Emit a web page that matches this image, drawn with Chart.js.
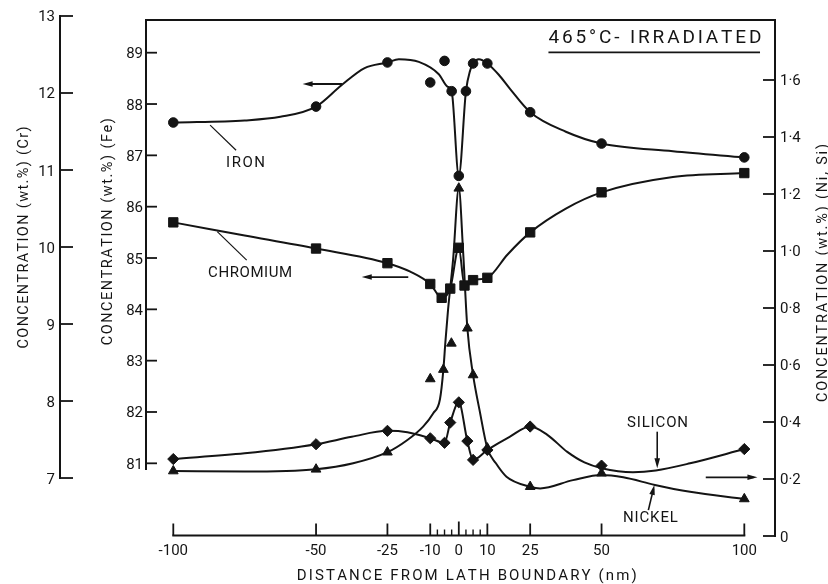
<!DOCTYPE html>
<html>
<head>
<meta charset="utf-8">
<script src="https://cdn.jsdelivr.net/npm/chart.js@4.4.0/dist/chart.umd.min.js"></script>
<style>
  html, body { margin: 0; padding: 0; background: #fff; }
</style>
</head>
<body>
<canvas id="profil" width="828" height="584"></canvas>
<script>
// axis ticks
const distTicks = [-100, -50, -25, -10, 0, 10, 25, 50, 100];
const distMinor = [-7.5, -5, -2.5, 2.5, 5, 7.5];
const feTicks = [81, 82, 83, 84, 85, 86, 87, 88, 89];
const crTicks = [7, 8, 9, 10, 11, 12, 13];
const niTicks = [0, 0.2, 0.4, 0.6, 0.8, 1.0, 1.2, 1.4, 1.6];

// measured points, distance in nm
const ironX = [-100, -50, -25, -10, -5, -2.5, 0, 2.5, 5, 10, 25, 50, 100];
const ironFe = [87.64, 87.95, 88.81, 88.42, 88.84, 88.25, 86.60, 88.25, 88.79, 88.79, 87.84, 87.23, 86.96];

const crX = [-100, -50, -25, -10, -6, -3, 0, 2, 5, 10, 25, 50, 100];
const crWt = [10.32, 9.98, 9.79, 9.52, 9.34, 9.46, 9.99, 9.50, 9.57, 9.60, 10.19, 10.71, 10.96];

const niX = [-100, -50, -25, -10, -5.4, -2.6, 0, 3, 5, 10, 25, 50, 100];
const niWt = [0.228, 0.234, 0.294, 0.551, 0.584, 0.676, 1.220, 0.729, 0.565, 0.308, 0.173, 0.220, 0.130];

const siX = [-100, -50, -25, -10, -5, -3, 0, 3, 5, 10, 25, 50, 100];
const siWt = [0.270, 0.322, 0.369, 0.343, 0.327, 0.398, 0.469, 0.333, 0.267, 0.302, 0.384, 0.247, 0.305];

// drawn-in profile curves
const ironCurveX = [-100, -75, -62.5, -50, -41, -33, -25, -21, -14, -7, -4, -2.5, 0, 2.5, 4, 5, 7, 10, 14, 18, 25, 37.5, 50, 75, 100];
const ironCurveFe = [87.64, 87.68, 87.75, 87.95, 88.37, 88.70, 88.81, 88.87, 88.82, 88.58, 88.34, 88.25, 86.60, 88.25, 88.66, 88.79, 88.87, 88.79, 88.57, 88.29, 87.84, 87.46, 87.23, 87.08, 86.96];

const crCurveX = [-100, -75, -50, -25, -17, -10, -6, -3, 0, 2, 5, 10, 17, 25, 37.5, 50, 75, 100];
const crCurveWt = [10.32, 10.15, 9.98, 9.79, 9.68, 9.52, 9.34, 9.46, 9.99, 9.50, 9.57, 9.60, 9.90, 10.19, 10.50, 10.71, 10.91, 10.96];

const niCurveX = [-100, -75, -50, -37, -25, -18, -12.5, -9, -6.6, -5.4, -4.7, -3.8, -2, 0, 1.5, 3, 5, 7.3, 10, 13, 16.7, 25, 28.5, 40, 50, 57.6, 68.7, 81, 100];
const niCurveWt = [0.228, 0.226, 0.234, 0.255, 0.294, 0.337, 0.384, 0.430, 0.480, 0.584, 0.680, 0.790, 0.970, 1.220, 1.000, 0.729, 0.565, 0.440, 0.308, 0.255, 0.208, 0.173, 0.167, 0.196, 0.214, 0.206, 0.179, 0.155, 0.130];

const siCurveX = [-100, -75, -50, -37.5, -25, -18, -10, -5, -3, 0, 3, 5, 10, 17.8, 25, 31, 38, 44, 50, 61, 69, 81, 100];
const siCurveWt = [0.270, 0.290, 0.322, 0.348, 0.369, 0.364, 0.343, 0.327, 0.398, 0.469, 0.333, 0.267, 0.302, 0.348, 0.384, 0.355, 0.295, 0.258, 0.238, 0.224, 0.230, 0.255, 0.305];

const ink = "#141414";
const fontFam = "Roboto, 'DejaVu Sans', sans-serif";

function pts(xs, ys) {
  return xs.map((x, i) => ({ x: x, y: ys[i] }));
}

function curve(xs, ys, axis) {
  return {
    data: pts(xs, ys),
    yAxisID: axis,
    showLine: true,
    borderColor: ink,
    borderWidth: 2,
    pointRadius: 0,
    cubicInterpolationMode: "monotone",
    fill: false,
    order: 2,
  };
}

function marks(xs, ys, axis, style, r) {
  return {
    data: pts(xs, ys),
    yAxisID: axis,
    showLine: false,
    pointStyle: style,
    pointRadius: r,
    pointBackgroundColor: ink,
    pointBorderColor: ink,
    pointBorderWidth: 1,
    order: 1,
  };
}

function seg(ctx, x1, y1, x2, y2) {
  ctx.beginPath();
  ctx.moveTo(x1, y1);
  ctx.lineTo(x2, y2);
  ctx.stroke();
}

// shaft with a narrow filled head at (x2, y2)
function arrow(ctx, x1, y1, x2, y2) {
  const a = Math.atan2(y2 - y1, x2 - x1);
  const L = 10, W = 2.8;
  seg(ctx, x1, y1, x2 - 4 * Math.cos(a), y2 - 4 * Math.sin(a));
  ctx.beginPath();
  ctx.moveTo(x2, y2);
  ctx.lineTo(x2 - L * Math.cos(a) + W * Math.sin(a), y2 - L * Math.sin(a) - W * Math.cos(a));
  ctx.lineTo(x2 - L * Math.cos(a) - W * Math.sin(a), y2 - L * Math.sin(a) + W * Math.cos(a));
  ctx.closePath();
  ctx.fill();
}

// letters spread out evenly over a given width
function spaced(ctx, text, x, y, width, align) {
  const chars = [...text];
  const natural = chars.reduce((s, c) => s + ctx.measureText(c).width, 0);
  const gap = chars.length > 1 ? (width - natural) / (chars.length - 1) : 0;
  let cx = align === "center" ? x - width / 2 : align === "right" ? x - width : x;
  ctx.textAlign = "left";
  for (const c of chars) {
    ctx.fillText(c, cx, y);
    cx += ctx.measureText(c).width + gap;
  }
}

const frame = {
  id: "frame",
  afterDraw(chart) {
    const ctx = chart.ctx;
    const a = chart.chartArea;
    const s = chart.scales;
    const X = (v) => s.x.getPixelForValue(v);
    const F = (v) => s.fe.getPixelForValue(v);
    const C = (v) => s.cr.getPixelForValue(v);
    const N = (v) => s.ni.getPixelForValue(v);

    ctx.save();
    ctx.strokeStyle = ink;
    ctx.fillStyle = ink;
    ctx.lineWidth = 2;
    ctx.lineCap = "butt";

    // top edge and the Ni,Si axis on the right
    seg(ctx, a.left - 1, a.top, a.right + 1, a.top);
    seg(ctx, a.right, a.top, a.right, a.bottom + 1);
    // Fe axis stops above the distance axis
    seg(ctx, a.left, a.top - 1, a.left, F(80.87));
    // Cr axis sits out on its own
    const crAxis = 60;
    seg(ctx, crAxis, C(13) - 1, crAxis, C(7) + 1);
    // distance axis
    const base = a.bottom - 0.5;
    seg(ctx, X(-100) - 1, base, X(100) + 1, base);

    ctx.lineWidth = 1.8;
    feTicks.forEach((v) => seg(ctx, a.left, F(v), a.left + 11, F(v)));
    crTicks.forEach((v) => seg(ctx, crAxis, C(v), crAxis + 13, C(v)));
    niTicks.forEach((v) => seg(ctx, a.right - 12, N(v), a.right, N(v)));
    distTicks.forEach((v) => seg(ctx, X(v), base, X(v), base - (v === 0 ? 14 : 12)));
    ctx.lineWidth = 1.4;
    distMinor.forEach((v) => seg(ctx, X(v), base, X(v), base - 6));

    ctx.font = "15px " + fontFam;
    ctx.textBaseline = "alphabetic";
    ctx.textAlign = "right";
    feTicks.forEach((v) => ctx.fillText(String(v), 143, F(v) + 5.5));
    crTicks.forEach((v) => ctx.fillText(String(v), 55, C(v) + 5.5));
    ctx.textAlign = "left";
    niTicks.forEach((v) =>
      ctx.fillText(v === 0 ? "0" : v.toFixed(1).replace(".", "\u00b7"), 780, N(v) + 5.5)
    );
    ctx.textAlign = "center";
    distTicks.forEach((v) => ctx.fillText(String(v), X(v), 554.5));

    // axis titles
    ctx.font = "14.5px " + fontFam;
    function vtitle(text, x, cy, len) {
      ctx.save();
      ctx.translate(x, cy);
      ctx.rotate(-Math.PI / 2);
      spaced(ctx, text, 0, 0, len, "center");
      ctx.restore();
    }
    vtitle("CONCENTRATION (wt.%) (Cr)", 27.5, 237.5, 222);
    vtitle("CONCENTRATION (wt.%) (Fe)", 111.5, 231.7, 227);
    vtitle("CONCENTRATION (wt.%) (Ni, Si)", 827, 273, 258);
    ctx.font = "15px " + fontFam;
    spaced(ctx, "DISTANCE FROM LATH BOUNDARY (nm)", X(2.8), 580, 340, "center");

    // heading
    ctx.font = "19px " + fontFam;
    spaced(ctx, "465\u00b0C- IRRADIATED", X(68.7), N(1.729), 213, "center");
    ctx.lineWidth = 1.6;
    seg(ctx, X(31.4), N(1.697), X(105.5), N(1.697));

    // curve labels
    ctx.font = "15px " + fontFam;
    spaced(ctx, "IRON", X(-74.7), F(86.77), 39, "center");
    spaced(ctx, "CHROMIUM", X(-73.1), C(9.614), 84, "center");
    spaced(ctx, "SILICON", X(69.6), N(0.3835), 61, "center");
    spaced(ctx, "NICKEL", X(67.1), N(0.050), 55, "center");

    // leaders
    ctx.lineWidth = 1.2;
    seg(ctx, X(-78), F(87.10), X(-87.1), F(87.59));
    seg(ctx, X(-74.3), C(9.83), X(-84.6), C(10.20));
    ctx.lineWidth = 1.6;
    arrow(ctx, X(69.5), N(0.366), X(69.5), N(0.2375));
    arrow(ctx, X(66.4), N(0.091), X(68.5), N(0.179));

    // which axis each curve belongs to
    ctx.lineWidth = 1.8;
    arrow(ctx, X(-40.8), F(88.39), X(-54.7), F(88.39));
    arrow(ctx, X(-17.7), C(9.61), X(-34), C(9.61));
    arrow(ctx, X(86.5), N(0.206), X(104.6), N(0.206));

    ctx.restore();
  },
};

new Chart(document.getElementById("profil").getContext("2d"), {
  type: "scatter",
  data: {
    datasets: [
      marks(ironX, ironFe, "fe", "circle", 4.8),
      marks(crX, crWt, "cr", "rect", 6.6),
      marks(niX, niWt, "ni", "triangle", 5.6),
      marks(siX, siWt, "ni", "rectRot", 5.6),
      curve(ironCurveX, ironCurveFe, "fe"),
      curve(crCurveX, crCurveWt, "cr"),
      curve(niCurveX, niCurveWt, "ni"),
      curve(siCurveX, siCurveWt, "ni"),
    ],
  },
  options: {
    responsive: false,
    animation: false,
    events: [],
    layout: { padding: { left: 146, right: 53, top: 20, bottom: 48 } },
    plugins: { legend: { display: false }, tooltip: { enabled: false } },
    scales: {
      x: { type: "linear", min: -109.56, max: 110.75, display: false },
      fe: { axis: "y", type: "linear", min: 79.584, max: 89.637, display: false },
      cr: { axis: "y", type: "linear", min: 6.247, max: 12.948, display: false },
      ni: { axis: "y", type: "linear", min: 0, max: 1.8105, display: false },
    },
  },
  plugins: [frame],
});
</script>
</body>
</html>
